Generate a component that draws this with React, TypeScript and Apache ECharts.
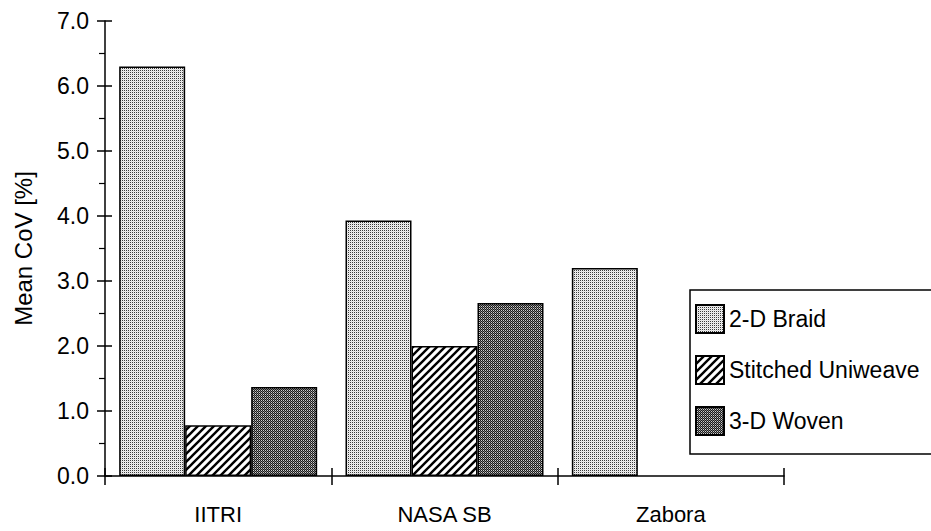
import React, { useEffect, useRef } from "react";
import * as echarts from "echarts";

const categories = ["IITRI", "NASA SB", "Zabora"];
const seriesNames = ["2-D Braid", "Stitched Uniweave", "3-D Woven"];
const braid = [6.3, 3.93, 3.2];
const stitched: (number | null)[] = [0.78, 2.0, null];
const woven: (number | null)[] = [1.37, 2.66, null];
const baseline = [0, 0, 0];
const yTicks = { min: 0, max: 7, interval: 1 };

const FONT = "'Liberation Sans', Arial, Helvetica, sans-serif";

function makePattern(kind: string) {
  const c = document.createElement("canvas");
  const ctx = c.getContext("2d")!;
  if (kind === "stripes") {
    c.width = 8;
    c.height = 8;
    ctx.fillStyle = "#ffffff";
    ctx.fillRect(0, 0, 8, 8);
    ctx.strokeStyle = "#000000";
    ctx.lineWidth = 2.4;
    ctx.beginPath();
    ctx.moveTo(-1, 9);
    ctx.lineTo(9, -1);
    ctx.moveTo(-5, 5);
    ctx.lineTo(5, -5);
    ctx.moveTo(3, 13);
    ctx.lineTo(13, 3);
    ctx.stroke();
  } else {
    c.width = 2;
    c.height = 2;
    const cols =
      kind === "light"
        ? ["#3a3a3a", "#f0f0f0", "#f0f0f0", "#dcdcdc"]
        : ["#1a1a1a", "#cfcfcf", "#7a7a7a", "#1a1a1a"];
    ctx.fillStyle = cols[0];
    ctx.fillRect(0, 0, 1, 1);
    ctx.fillStyle = cols[1];
    ctx.fillRect(1, 0, 1, 1);
    ctx.fillStyle = cols[2];
    ctx.fillRect(0, 1, 1, 1);
    ctx.fillStyle = cols[3];
    ctx.fillRect(1, 1, 1, 1);
  }
  return {
    image: c.toDataURL(),
    repeat: "repeat",
    imageWidth: c.width,
    imageHeight: c.height,
  } as any;
}

export default function App() {
  const ref = useRef<HTMLDivElement>(null);
  useEffect(() => {
    if (!ref.current) return;
    const chart = echarts.init(ref.current, undefined, { renderer: "svg" });
    const fills = [makePattern("light"), makePattern("stripes"), makePattern("dark")];
    const datas = [braid, stitched, woven];
    const axisLine = { lineStyle: { color: "#000", width: 1.5 } };
    const bars = seriesNames.map((name, i) => ({
      name,
      type: "bar",
      xAxisIndex: 0,
      yAxisIndex: 0,
      data: datas[i],
      barWidth: 66,
      barGap: "0%",
      itemStyle: { color: fills[i], borderColor: "#000", borderWidth: 1.5 },
      emphasis: { disabled: true },
    }));
    chart.setOption({
      animation: false,
      backgroundColor: "#ffffff",
      grid: { left: 105, right: 147, top: 21, bottom: 55, containLabel: false },
      legend: {
        orient: "vertical",
        left: 690,
        top: 290,
        padding: [14, 40, 18, 5],
        itemWidth: 28,
        itemHeight: 28,
        itemGap: 21,
        icon: "rect",
        borderColor: "#000",
        borderWidth: 1.5,
        textStyle: { fontSize: 23, fontFamily: FONT, color: "#000" },
        data: seriesNames,
      },
      xAxis: [
        {
          type: "category",
          data: categories,
          position: "bottom",
          axisLine: { show: true, onZero: false, ...axisLine },
          axisTick: { show: true, length: 9, lineStyle: { color: "#000", width: 1.5 } },
          axisLabel: { margin: 27, fontSize: 22, fontFamily: FONT, color: "#000" },
        },
        {
          type: "category",
          data: categories,
          position: "bottom",
          offset: 0,
          axisLine: { show: true, onZero: false, lineStyle: { opacity: 0 } },
          axisTick: { show: true, inside: true, length: 8, lineStyle: { color: "#000", width: 1.5 } },
          axisLabel: { show: false },
        },
      ],
      yAxis: [
        {
          type: "value",
          min: yTicks.min,
          max: yTicks.max,
          interval: yTicks.interval,
          position: "left",
          name: "Mean CoV [%]",
          nameLocation: "middle",
          nameGap: 70,
          nameTextStyle: { fontSize: 24, fontFamily: FONT, color: "#000" },
          axisLine: { show: true, onZero: false, ...axisLine },
          axisTick: { show: true, length: 8, lineStyle: { color: "#000", width: 1.5 } },
          minorTick: { show: true, splitNumber: 2, length: 6, lineStyle: { color: "#000", width: 1.2 } },
          splitLine: { show: false },
          axisLabel: {
            margin: 16,
            fontSize: 23,
            fontFamily: FONT,
            color: "#000",
            formatter: (v: number) => v.toFixed(1),
          },
        },
        {
          type: "value",
          min: yTicks.min,
          max: yTicks.max,
          interval: yTicks.interval,
          position: "left",
          offset: 0,
          axisLine: { show: true, onZero: false, lineStyle: { opacity: 0 } },
          axisTick: { show: true, inside: true, length: 7, lineStyle: { color: "#000", width: 1.5 } },
          splitLine: { show: false },
          axisLabel: { show: false },
        },
      ],
      series: [
        ...bars,
        {
          name: "_baseline",
          type: "line",
          xAxisIndex: 1,
          yAxisIndex: 1,
          data: baseline,
          symbol: "none",
          silent: true,
          lineStyle: { opacity: 0 },
          z: 0,
        },
      ],
    });
    return () => chart.dispose();
  }, []);
  return (
    <div
      ref={ref}
      style={{ position: "fixed", left: 0, top: 0, width: 931, height: 531 }}
    />
  );
}
